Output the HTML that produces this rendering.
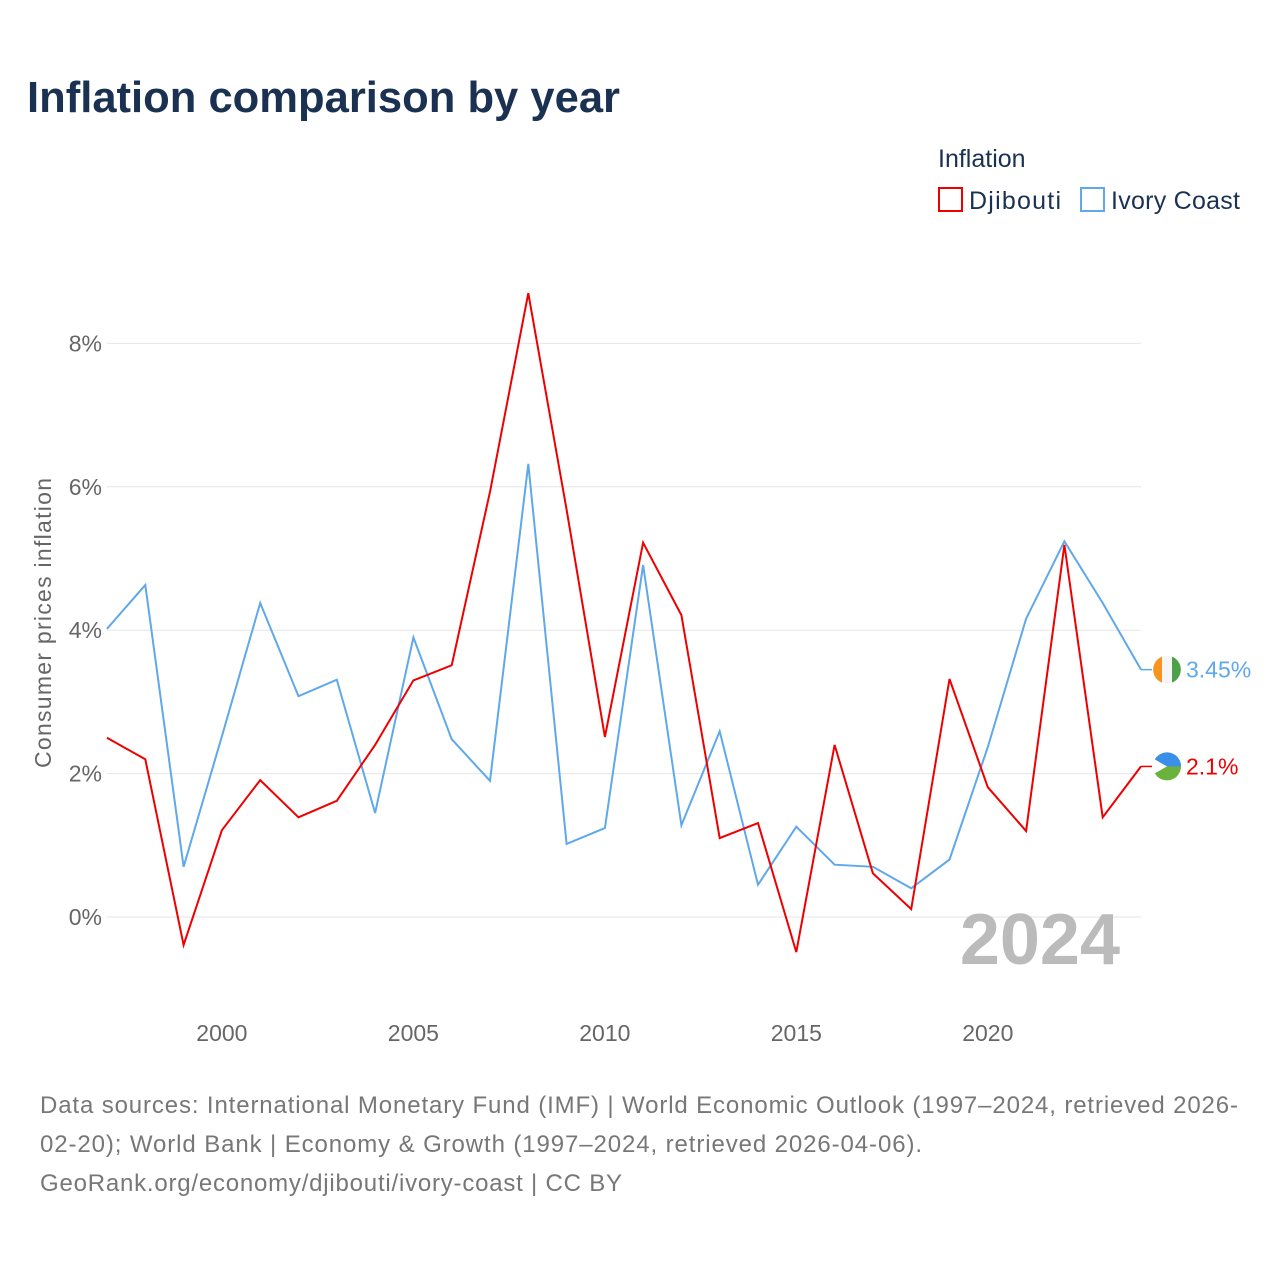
<!DOCTYPE html>
<html><head><meta charset="utf-8">
<style>
body{margin:0;background:#fff;font-family:"Liberation Sans",sans-serif;}
#wrap{position:relative;width:1280px;height:1280px;overflow:hidden;}
</style></head>
<body>
<div id="wrap">
<svg id="chart" width="1280" height="1280" xmlns="http://www.w3.org/2000/svg">
<text x="27" y="112" font-size="44" font-weight="bold" fill="#1b3152" textLength="593" lengthAdjust="spacingAndGlyphs">Inflation comparison by year</text>
<text x="938" y="167" font-size="25" fill="#1b3152">Inflation</text>
<g><rect x="939" y="188" width="23" height="23" fill="none" stroke="#e00" stroke-width="2"/><text x="969" y="209" font-size="25" fill="#1b3152" textLength="92">Djibouti</text></g>
<g><rect x="1081" y="188" width="23" height="23" fill="none" stroke="#5fa8ea" stroke-width="2"/><text x="1111" y="209" font-size="25" fill="#1b3152" textLength="129">Ivory Coast</text></g>
<text transform="translate(51,623) rotate(-90)" text-anchor="middle" font-size="23" fill="#666" textLength="290">Consumer prices inflation</text>
<g id="grid"></g><g id="xt"></g>
<text x="1120" y="964" text-anchor="end" font-size="72" font-weight="bold" fill="#bbb">2024</text>
<g id="lines"></g>
<text x="40" y="1113" font-size="24" fill="#777" textLength="1198">Data sources: International Monetary Fund (IMF) | World Economic Outlook (1997–2024, retrieved 2026-</text>
<text x="40" y="1152" font-size="24" fill="#777" textLength="882">02-20); World Bank | Economy &amp; Growth (1997–2024, retrieved 2026-04-06).</text>
<text x="40" y="1191" font-size="24" fill="#777" textLength="582">GeoRank.org/economy/djibouti/ivory-coast | CC BY</text>
</svg>
</div>
<script>
const years=[1997,1998,1999,2000,2001,2002,2003,2004,2005,2006,2007,2008,2009,2010,2011,2012,2013,2014,2015,2016,2017,2018,2019,2020,2021,2022,2023,2024];
const djibouti=[2.5,2.2,-0.39,1.21,1.91,1.39,1.62,2.4,3.3,3.51,5.93,8.7,5.68,2.51,5.22,4.21,1.1,1.31,-0.49,2.4,0.61,0.11,3.32,1.81,1.2,5.19,1.39,2.1];
const ivoryCoast=[4.02,4.63,0.7,2.52,4.38,3.08,3.31,1.45,3.9,2.48,1.9,6.32,1.02,1.24,4.91,1.28,2.59,0.45,1.26,0.73,0.7,0.4,0.8,2.37,4.16,5.24,4.38,3.45];
const yTicks=[0,2,4,6,8];
const xTicks=[2000,2005,2010,2015,2020];
const NS="http://www.w3.org/2000/svg";
const X=y=>107+(y-1997)*(1141-107)/27;
const Y=v=>917-v*71.7;
function mk(t,a,p){const e=document.createElementNS(NS,t);for(const k in a)e.setAttribute(k,a[k]);p.appendChild(e);return e;}
const grid=document.getElementById('grid');
yTicks.forEach(v=>{
 const l=mk('line',{x1:107,x2:1141,y1:Y(v),y2:Y(v),stroke:'#e6e6e6','stroke-width':1},grid);
 
 
 const t=mk('text',{x:102,y:Y(v)+8,'text-anchor':'end','font-size':23,fill:'#666'},grid);
 t.textContent=v+'%';
 
 
});
const xt=document.getElementById('xt');
xTicks.forEach(v=>{
 const t=mk('text',{x:X(v),y:1041,'text-anchor':'middle','font-size':23,fill:'#666'},xt);
 t.textContent=v;
 
 
});
const lines=document.getElementById('lines');
function series(vals,col,name,label){
 const d=vals.map((v,i)=>(i?'L':'M')+X(years[i]).toFixed(1)+','+Y(v).toFixed(1)).join('');
 const p=mk('path',{d:d,fill:'none',stroke:col,'stroke-width':2},lines);
 
 
 const last=vals[vals.length-1], ly=Y(last);
 mk('line',{x1:1141,x2:1152,y1:ly,y2:ly,stroke:col,'stroke-width':1.5},lines);
 const c=mk('circle',{cx:1167,cy:ly,r:14,fill:name==='djibouti'?'#6ab23e':'#f5f5f5'},lines);
 
 
 if(name==='djibouti'){mk('path',{d:`M1153,${ly} A14,14 0 0 1 1181,${ly} Z`,fill:'#3a8fe8'},lines);mk('path',{d:`M1153,${ly-8} L1167,${ly} L1153,${ly+8}Z`,fill:'#fff'},lines);}
 else{mk('path',{d:`M1162,${ly-13} A14,14 0 0 0 1162,${ly+13} Z`,fill:'#f7941d'},lines);mk('path',{d:`M1172,${ly-13} A14,14 0 0 1 1172,${ly+13} Z`,fill:'#4ea14a'},lines);}
 const t=mk('text',{x:1186,y:ly+8,'font-size':23,fill:col},lines);
 t.textContent=label(last);
 
 
}
series(ivoryCoast,'#5fa8ea','ivory-coast',v=>v+'%');
series(djibouti,'#ee0000','djibouti',v=>v+'%');
</script>
</body></html>
